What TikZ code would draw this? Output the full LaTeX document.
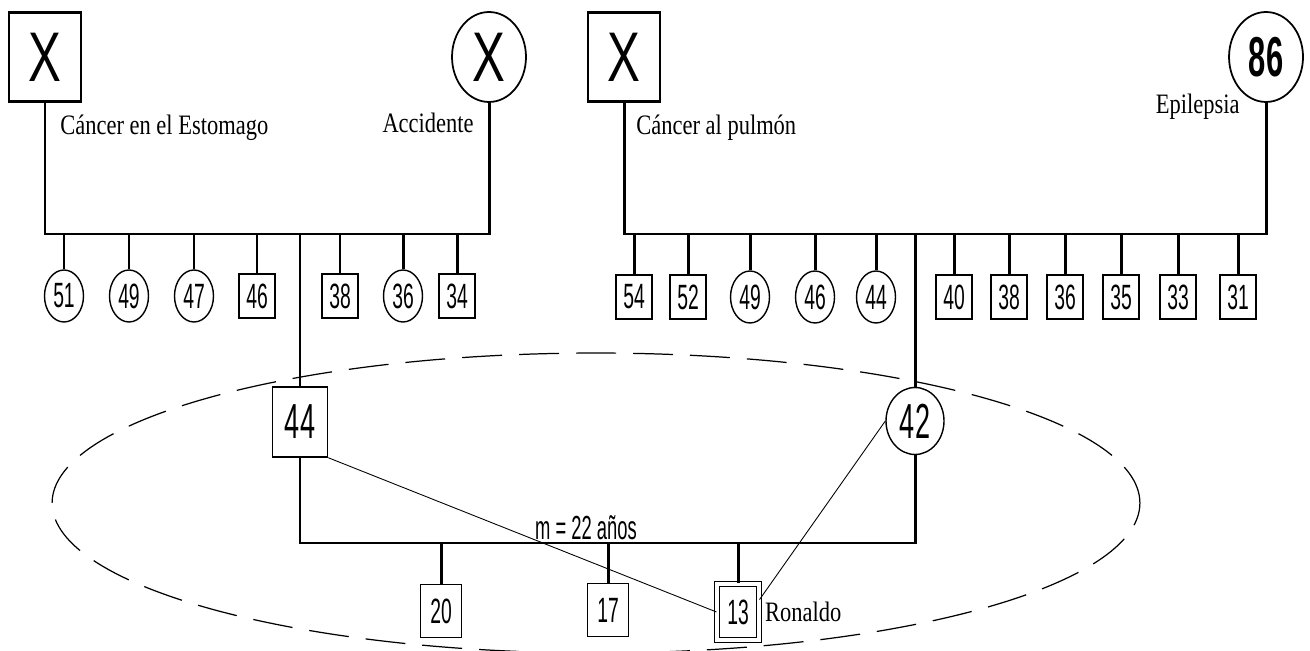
\documentclass[tikz,border=0pt]{standalone}
\usepackage{fontspec}
\usepackage{tikz}
\usetikzlibrary{positioning, shapes.geometric}

\newfontfamily\lblfont[FakeStretch=0.8]{Liberation Serif}
\newfontfamily\numfont[FakeStretch=0.55]{Liberation Sans}
\newfontfamily\xfont[FakeStretch=0.7]{Liberation Sans}

\begin{document}
\begin{tikzpicture}[
            x=0.02cm, y=-0.02cm,
            edge/.style={line width=1.7pt},
            thinline/.style={line width=0.5pt},
            oval/.style={draw=black, line width=0.7pt, dash pattern=on 0.8cm off 0.34cm},
            bigbox/.style={draw=black, line width=1.5pt, fill=white, rectangle, inner sep=0pt, minimum width=1.44cm, minimum height=1.78cm, font={\xfont\fontsize{40}{40}\selectfont}},
            bigcirc/.style={draw=black, line width=1pt, fill=white, ellipse, inner sep=0pt, minimum width=1.48cm, minimum height=1.8cm, font={\xfont\fontsize{40}{40}\selectfont}},
            sbox/.style={draw=black, line width=0.8pt, fill=white, rectangle, inner sep=0pt, minimum width=0.72cm, minimum height=0.88cm, font={\numfont\fontsize{20}{20}\selectfont}},
            scirc/.style={draw=black, line width=0.8pt, fill=white, ellipse, inner sep=0pt, minimum width=0.78cm, minimum height=1.04cm, font={\numfont\fontsize{20}{20}\selectfont}},
            kbox/.style={sbox, minimum width=0.82cm, minimum height=1.06cm},
            ichbox/.style={draw=black, double, double distance=2pt, line width=0.6pt, fill=white, rectangle, inner sep=0pt, minimum width=0.84cm, minimum height=1.12cm, font={\numfont\fontsize{20}{20}\selectfont}},
            lbl/.style={inner sep=0pt, font={\lblfont\fontsize{16}{16}\selectfont}}
        ]

        \useasboundingbox (0,0) rectangle (1310,651);

        % Oval
        \draw[oval] (596,503) ellipse [x radius=10.88cm, y radius=3cm];

        % Hilfspunkte
        \coordinate (b1) at (0,234);
        \coordinate (m1) at (0,543);

        % Knoten: Grosseltern
        \node[bigbox] (apat) at (45,57) {X};
        \node[bigcirc] (mpat) at (489,57) {X};
        \node[bigbox] (amat) at (624,57) {X};
        \node[bigcirc, font={\numfont\bfseries\fontsize{32}{32}\selectfont}] (mmat) at (1266,57) {86};

        \node[lbl, anchor=west] (tapat) at (60,128) {Cáncer en el Estomago};
        \node[lbl, anchor=east] (tmpat) at (474,123) {Accidente};
        \node[lbl, anchor=west] (tamat) at (636,128) {Cáncer al pulmón};
        \node[lbl, anchor=east] (tmmat) at (1240,107) {Epilepsia};

        % Knoten: Geschwister des Vaters
        \node[scirc] (tp51) at (64,296) {51};
        \node[scirc] (tp49) at (129,296) {49};
        \node[scirc] (tp47) at (194,296) {47};
        \node[sbox] (tp46) at (257,296) {46};
        \node[sbox] (tp38) at (340,296) {38};
        \node[scirc] (tp36) at (403,296) {36};
        \node[sbox] (tp34) at (457,296) {34};

        % Knoten: Geschwister der Mutter
        \node[sbox] (tm54) at (634,297) {54};
        \node[sbox] (tm52) at (688,297) {52};
        \node[scirc] (tm49) at (750,297) {49};
        \node[scirc] (tm46) at (815,297) {46};
        \node[scirc] (tm44) at (876,297) {44};
        \node[sbox] (tm40) at (954,297) {40};
        \node[sbox] (tm38) at (1009,297) {38};
        \node[sbox] (tm36) at (1065,297) {36};
        \node[sbox] (tm35) at (1121,297) {35};
        \node[sbox] (tm33) at (1178,297) {33};
        \node[sbox] (tm31) at (1238,297) {31};

        % Knoten: Eltern
        \node[sbox, minimum width=1.1cm, minimum height=1.4cm, font={\numfont\fontsize{28}{28}\selectfont}] (padre) at (300,422) {44};
        \node[scirc, minimum width=1.16cm, minimum height=1.34cm, font={\numfont\fontsize{28}{28}\selectfont}] (madre) at (915,421) {42};

        % Knoten: Kinder
        \node[kbox] (h20) at (441,611) {20};
        \node[kbox] (h17) at (608,610) {17};
        \node[ichbox] (ronaldo) at (738,612) {13};
        \node[lbl, right=3pt of ronaldo] (tron) {Ronaldo};
        \node[lbl, font={\numfont\fontsize{19}{19}\selectfont}] (dauer) at (586,528) {m = 22 años};

        % Kanten
        \draw[edge] (apat.south) -- (apat |- b1) -- (mpat |- b1) -- (mpat.south);
        \draw[edge] (amat.south) -- (amat |- b1) -- (mmat |- b1) -- (mmat.south);

        \draw[edge] (tp51.north) -- (tp51 |- b1);
        \draw[edge] (tp49.north) -- (tp49 |- b1);
        \draw[edge] (tp47.north) -- (tp47 |- b1);
        \draw[edge] (tp46.north) -- (tp46 |- b1);
        \draw[edge] (tp38.north) -- (tp38 |- b1);
        \draw[edge] (tp36.north) -- (tp36 |- b1);
        \draw[edge] (tp34.north) -- (tp34 |- b1);

        \draw[edge] (tm54.north) -- (tm54 |- b1);
        \draw[edge] (tm52.north) -- (tm52 |- b1);
        \draw[edge] (tm49.north) -- (tm49 |- b1);
        \draw[edge] (tm46.north) -- (tm46 |- b1);
        \draw[edge] (tm44.north) -- (tm44 |- b1);
        \draw[edge] (tm40.north) -- (tm40 |- b1);
        \draw[edge] (tm38.north) -- (tm38 |- b1);
        \draw[edge] (tm36.north) -- (tm36 |- b1);
        \draw[edge] (tm35.north) -- (tm35 |- b1);
        \draw[edge] (tm33.north) -- (tm33 |- b1);
        \draw[edge] (tm31.north) -- (tm31 |- b1);

        \draw[edge] (padre.north) -- (padre |- b1);
        \draw[edge] (madre.north) -- (madre |- b1);

        \draw[edge] (padre.south) -- (padre |- m1) -- (madre |- m1) -- (madre.south);
        \draw[edge] (h20.north) -- (h20 |- m1);
        \draw[edge] (h17.north) -- (h17 |- m1);
        \draw[edge] (ronaldo.north) -- (ronaldo |- m1);

        \draw[thinline] (padre.south east) -- (ronaldo.west);
        \draw[thinline] (madre.west) -- (ronaldo.30);

    \end{tikzpicture}
\end{document}
